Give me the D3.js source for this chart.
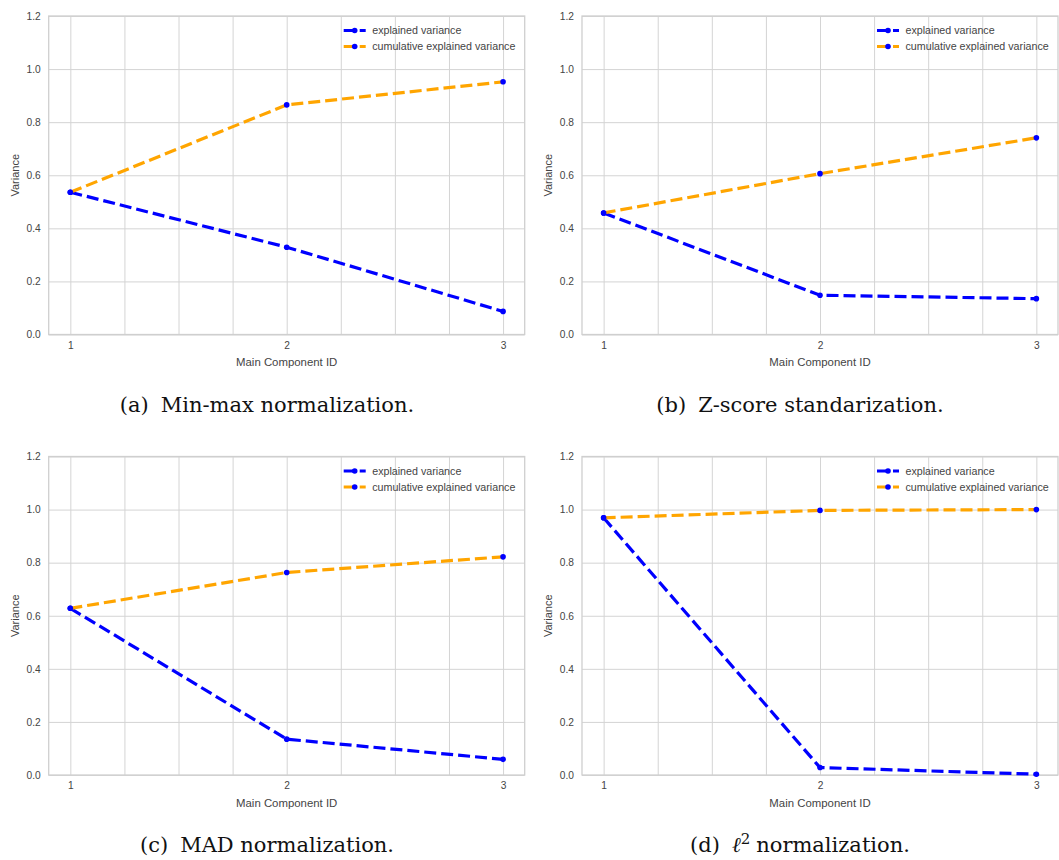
<!DOCTYPE html>
<html>
<head>
<meta charset="utf-8">
<script src="https://cdn.jsdelivr.net/npm/d3@7"></script>
<style>
  html, body { margin: 0; padding: 0; background: #fff; }
  svg { display: block; }
  .tick text { font-family: "Liberation Sans", Arial, sans-serif; font-size: 10.2px; fill: #444; }
  .grid line { stroke: #d4d4d4; stroke-width: 1; }
</style>
</head>
<body>
<script>
// Principal component variance under four normalization schemes
const componentIds = [1, 2, 3];
const xGridTicks = [1, 1.25, 1.5, 1.75, 2, 2.25, 2.5, 2.75, 3];
const yTicks = [0, 0.2, 0.4, 0.6, 0.8, 1.0, 1.2];

const explainedMinMax   = [0.536, 0.329, 0.087];
const cumulativeMinMax  = [0.536, 0.865, 0.952];
const explainedZScore   = [0.458, 0.148, 0.135];
const cumulativeZScore  = [0.458, 0.606, 0.741];
const explainedMad      = [0.628, 0.135, 0.059];
const cumulativeMad     = [0.628, 0.763, 0.822];
const explainedL2       = [0.969, 0.028, 0.003];
const cumulativeL2      = [0.969, 0.997, 1.000];

const seriesNames = ["explained variance", "cumulative explained variance"];
const captionLabels = ["(a)", "(b)", "(c)", "(d)"];
const captionTexts = ["Min-max normalization.", "Z-score standarization.", "MAD normalization.", "normalization."];

const W = 1059, H = 860;
const plotW = 476, plotH = 318.5;
const blue = "#0000ff", orange = "#ffa500";
const sans = "Liberation Sans, Arial, sans-serif";

const panels = [
  { explained: explainedMinMax, cumulative: cumulativeMinMax, left: 48.7, top: 16,    capX: 267 },
  { explained: explainedZScore, cumulative: cumulativeZScore, left: 582,  top: 16,    capX: 800 },
  { explained: explainedMad,    cumulative: cumulativeMad,    left: 48.7, top: 456.5, capX: 267 },
  { explained: explainedL2,     cumulative: cumulativeL2,     left: 582,  top: 456.5, capX: 800 }
];

const svg = d3.select("body").append("svg")
  .attr("width", W).attr("height", H)
  .style("background", "#fff");

panels.forEach((p, k) => {
  const x = d3.scaleLinear().domain([0.9, 3.1]).range([p.left, p.left + plotW]);
  const y = d3.scaleLinear().domain([0, 1.2]).range([p.top + plotH, p.top]);
  const g = svg.append("g");

  // grid
  g.append("g").attr("class", "grid")
    .attr("transform", `translate(0,${p.top + plotH})`)
    .call(d3.axisBottom(x).tickValues(xGridTicks).tickSize(-plotH).tickFormat(""))
    .call(s => s.select(".domain").remove());
  g.append("g").attr("class", "grid")
    .attr("transform", `translate(${p.left},0)`)
    .call(d3.axisLeft(y).tickValues(yTicks).tickSize(-plotW).tickFormat(""))
    .call(s => s.select(".domain").remove());

  // frame
  g.append("rect")
    .attr("x", x(0.9)).attr("y", y(1.2))
    .attr("width", x(3.1) - x(0.9)).attr("height", y(0) - y(1.2))
    .attr("fill", "none").attr("stroke", "#cfcfcf").attr("stroke-width", 1.3);

  // tick labels
  g.append("g")
    .attr("transform", `translate(0,${p.top + plotH})`)
    .call(d3.axisBottom(x).tickValues(componentIds).tickSize(0).tickPadding(7).tickFormat(d3.format("d")))
    .call(s => s.select(".domain").remove());
  g.append("g")
    .attr("transform", `translate(${p.left},0)`)
    .call(d3.axisLeft(y).tickValues(yTicks).tickSize(0).tickPadding(8).tickFormat(d3.format(".1f")))
    .call(s => s.select(".domain").remove());

  // axis titles
  g.append("text")
    .attr("x", (x(0.9) + x(3.1)) / 2).attr("y", p.top + plotH + 31.5)
    .attr("text-anchor", "middle")
    .style("font-family", sans)
    .style("font-size", "11.4px").style("fill", "#444")
    .text("Main Component ID");
  g.append("text")
    .attr("transform", `translate(${p.left - 30},${p.top + plotH / 2}) rotate(-90)`)
    .attr("text-anchor", "middle")
    .style("font-family", sans)
    .style("font-size", "11px").style("fill", "#444")
    .text("Variance");

  // series
  const line = d3.line().x((d, i) => x(componentIds[i])).y(d => y(d));
  [[p.explained, blue], [p.cumulative, orange]].forEach(([vals, col]) => {
    g.append("path")
      .attr("d", line(vals))
      .attr("fill", "none").attr("stroke", col)
      .attr("stroke-width", 3.2).attr("stroke-dasharray", "12,5");
    g.selectAll(null).data(vals).enter().append("circle")
      .attr("cx", (d, i) => x(componentIds[i])).attr("cy", d => y(d))
      .attr("r", 2.8).attr("fill", blue);
  });

  // legend
  const lg = g.append("g").attr("transform", `translate(${p.left + 295},${p.top + 14.5})`);
  [blue, orange].forEach((col, i) => {
    const row = lg.append("g").attr("transform", `translate(0,${i * 16})`);
    row.append("line").attr("x1", 0).attr("x2", 22).attr("y1", 0).attr("y2", 0)
      .attr("stroke", col).attr("stroke-width", 3.2).attr("stroke-dasharray", "11,5");
    row.append("circle").attr("cx", 11).attr("cy", 0).attr("r", 2.8).attr("fill", blue);
    row.append("text").attr("x", 28.5).attr("y", 0).attr("dy", "0.35em")
      .style("font-family", sans)
      .style("font-size", "10.7px").style("fill", "#444")
      .text(seriesNames[i]);
  });

  // caption
  const cap = svg.append("text")
    .attr("x", p.capX).attr("y", p.top + 395.7)
    .attr("text-anchor", "middle")
    .style("font-family", "DejaVu Serif, serif")
    .style("font-size", "21px").style("fill", "#111");
  cap.append("tspan").text(captionLabels[k]);
  if (k === 3) {
    cap.append("tspan").attr("dx", 12).style("font-style", "italic").text("\u2113");
    cap.append("tspan").attr("dy", -8).style("font-size", "15px").text("2");
    cap.append("tspan").attr("dy", 8).attr("dx", 6).text(captionTexts[k]);
  } else {
    cap.append("tspan").attr("dx", 12).text(captionTexts[k]);
  }
});
</script>
</body>
</html>
